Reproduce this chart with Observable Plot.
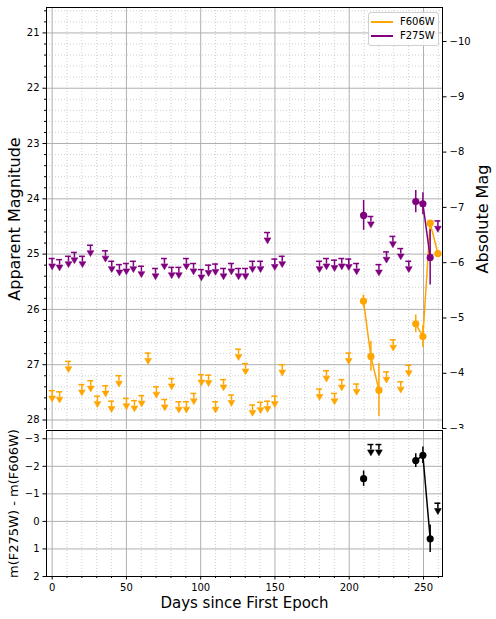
<!DOCTYPE html>
<html>
<head>
<meta charset="utf-8">
<script src="https://cdn.jsdelivr.net/npm/d3@7"></script>
<script src="https://cdn.jsdelivr.net/npm/@observablehq/plot@0.6"></script>
<style>
  body { margin: 0; background: white; font-family: "DejaVu Sans", sans-serif; }
  #wrap { position: relative; width: 496px; height: 619px; overflow: hidden; }
  #top, #bot { position: absolute; left: 0; }
  #top { top: 0; }
  #bot { top: 429px; }
  #legend { position: absolute; left: 368px; top: 12px; width: 69px; height: 32px;
    border: 1px solid #d0d0d0; border-radius: 3px; background: rgba(255,255,255,0.85);
    font-family: "DejaVu Sans", sans-serif; font-size: 10px; color: #000; }
  .sw { position: absolute; left: 2px; width: 22px; height: 1.5px; }
  .lt { position: absolute; left: 31px; line-height: 12px; }
</style>
</head>
<body>
<div id="wrap">
  <div id="top"></div>
  <div id="bot"></div>
  <div id="legend">
    <div class="sw" style="top:8px;background:orange"></div><div class="lt" style="top:3px">F606W</div>
    <div class="sw" style="top:22px;background:purple"></div><div class="lt" style="top:17px">F275W</div>
  </div>
</div>
<script>
// ---------- data ----------
const DM = 31.155; // distance modulus (apparent - absolute)

const f275LimDay = [0, 5, 11, 15, 20.4, 25.8, 35.9, 40.1, 45.3, 50, 54.7, 60.1, 69.6, 75.6, 80.5, 85.3, 90.4, 95.2, 100.5, 105.3,
  110, 115.4, 120.7, 125.5, 130.2, 134.9, 140.3, 145, 149.9, 154.9, 180, 184.7, 190.1, 195, 199.7, 205, 214.6, 220, 225.1, 229.4,
  234.7, 240.1, 259.7];
const f275LimMag = [25.08, 25.10, 25.04, 24.97, 25.04, 24.84, 24.94, 25.13, 25.19, 25.17, 25.13, 25.22, 25.26, 25.08, 25.24, 25.24, 25.08, 25.17, 25.28, 25.20,
  25.18, 25.26, 25.17, 25.26, 25.26, 25.13, 25.13, 24.61, 25.09, 25.04, 25.13, 25.08, 25.11, 25.08, 25.09, 25.17, 24.32, 25.19, 24.96, 24.68,
  24.90, 25.13, 24.40];

const f275DetDay = [209.7, 244.8, 249.6, 254.5];
const f275DetMag = [24.30, 24.05, 24.09, 25.06];
const f275DetErr = [0.27, 0.20, 0.20, 0.50];
const f275DetSeg = [1, 2, 2, 2];

const f606LimDay = [0, 5, 11, 20, 26, 30.5, 36, 40, 45, 50, 55.4, 60.3, 64.6, 70.2, 75.8, 80.5, 85.3, 90.4, 95.4, 100.5,
  105.3, 110, 115.4, 120.7, 125.5, 130.2, 134.9, 140.3, 145, 149.9, 154.9, 180, 184.7, 190.1, 195, 199.7, 205, 225.1, 229.6, 234.7,
  240.1];
const f606LimMag = [27.47, 27.49, 26.94, 27.36, 27.29, 27.57, 27.38, 27.66, 27.20, 27.61, 27.65, 27.56, 26.79, 27.40, 27.63, 27.25, 27.67, 27.67, 27.52, 27.18,
  27.19, 27.67, 27.27, 27.55, 26.72, 26.98, 27.73, 27.68, 27.66, 27.57, 27.00, 27.44, 27.11, 27.52, 27.27, 26.79, 27.35, 27.13, 26.55, 27.31,
  27.01];

const f606DetDay = [209.6, 214.6, 220, 244.8, 249.6, 254.5, 259.7];
const f606DetMag = [25.85, 26.85, 27.46, 26.26, 26.49, 24.44, 24.99];
const f606DetErr = [0.11, 0.27, 0.48, 0.16, 0.20, 0.05, 0.03];
const f606DetSeg = [1, 1, 1, 2, 2, 2, 2];

const colDetDay = [209.7, 244.8, 249.6, 254.5];
const colDetVal = [-1.55, -2.21, -2.40, 0.63];
const colDetErr = [0.28, 0.25, 0.30, 0.50];
const colDetSeg = [1, 2, 2, 2];

const colLimDay = [214.6, 220, 259.7];
const colLimVal = [-2.79, -2.79, -0.66];

// tick values
const xTicks = [0, 50, 100, 150, 200, 250];
const xMinor = [10, 20, 30, 40, 60, 70, 80, 90, 110, 120, 130, 140, 160, 170, 180, 190, 210, 220, 230, 240, 260];
const yTopTicks = [21, 22, 23, 24, 25, 26, 27, 28];
const absTicks = [-10, -9, -8, -7, -6, -5, -4, -3];
const yBotTicks = [-3, -2, -1, 0, 1, 2];

// ---------- tables ----------
const lim = (days, vals) => days.map((d, i) => ({day: d, v: vals[i]}));
const det = (days, vals, errs, segs) => days.map((d, i) => ({day: d, v: vals[i], e: errs[i], seg: segs[i]}));

const f275Lim = lim(f275LimDay, f275LimMag);
const f606Lim = lim(f606LimDay, f606LimMag);
const f275Det = det(f275DetDay, f275DetMag, f275DetErr, f275DetSeg);
const f606Det = det(f606DetDay, f606DetMag, f606DetErr, f606DetSeg);
const colDet = det(colDetDay, colDetVal, colDetErr, colDetSeg);
const colLim = lim(colLimDay, colLimVal);

const yMinorTop = d3.range(206, 282, 2).map(v => v / 10).filter(v => v % 1 !== 0 && v > 20.54 && v < 28.19);

const ORANGE = "orange", PURPLE = "purple";
const MAJ = "#b0b0b0";
const intFmt = d3.format("d");

function limitMarks(data, color, e) {
  return [
    Plot.ruleX(data, {x: "day", y1: "v", y2: d => d.v + e, stroke: color, strokeWidth: 1.5}),
    Plot.ruleY(data, {y: "v", x1: d => d.day - 2, x2: d => d.day + 2, stroke: color, strokeWidth: 1.5}),
    Plot.dot(data, {x: "day", y: d => d.v + e, symbol: "triangle", rotate: 180, r: 2.5, fill: color, stroke: color, strokeWidth: 0.6, dy: 1.8})
  ];
}
function detMarks(data, color) {
  return [
    Plot.line(data, {x: "day", y: "v", z: "seg", stroke: color, strokeWidth: 1.5}),
    Plot.ruleX(data, {x: "day", y1: d => d.v - d.e, y2: d => d.v + d.e, stroke: color, strokeWidth: 1.5}),
    Plot.dot(data, {x: "day", y: "v", r: 3.6, fill: color, stroke: "none"})
  ];
}

const style = {fontFamily: "DejaVu Sans", fontSize: "10px", color: "black", background: "white", overflow: "visible"};
const xDomain = [-3.8, 262.8];

const topPlot = Plot.plot({
  width: 496, height: 431,
  marginTop: 7, marginBottom: 1, marginLeft: 46, marginRight: 54,
  style,
  x: {domain: xDomain, axis: null},
  y: {domain: [20.54, 28.19], reverse: true},
  marks: [
    Plot.gridX({ticks: xMinor, stroke: MAJ, strokeOpacity: 0.75, strokeWidth: 0.8, strokeDasharray: "1,2"}),
    Plot.gridY({ticks: yMinorTop, stroke: MAJ, strokeOpacity: 0.75, strokeWidth: 0.8, strokeDasharray: "1,2"}),
    Plot.gridX({ticks: xTicks, stroke: MAJ, strokeOpacity: 1, strokeWidth: 1}),
    Plot.gridY({ticks: yTopTicks, stroke: MAJ, strokeOpacity: 1, strokeWidth: 1}),
    Plot.axisY({anchor: "left", ticks: yTopTicks, tickFormat: intFmt, tickSize: 3.5, tickPadding: 3.5, label: null, fontSize: 10}),
    Plot.axisY({anchor: "left", ticks: yMinorTop, tickSize: 2, tickFormat: () => "", label: null}),
    Plot.axisY({anchor: "right", ticks: absTicks.map(a => a + DM), tickFormat: d => intFmt(Math.round(d - DM)),
      tickSize: 3.5, tickPadding: 3.5, label: null, fontSize: 10}),
    ...limitMarks(f606Lim, ORANGE, 0.1),
    ...limitMarks(f275Lim, PURPLE, 0.1),
    ...detMarks(f606Det, ORANGE),
    ...detMarks(f275Det, PURPLE),
    Plot.frame({stroke: "black", strokeWidth: 1}),
    Plot.text(["Apparent Magnitude"], {frameAnchor: "left", dx: -32, rotate: -90, textAnchor: "middle", fontSize: 16}),
    Plot.text(["Absolute Mag"], {frameAnchor: "right", dx: 40, rotate: -90, textAnchor: "middle", fontSize: 16})
  ]
});
document.getElementById("top").append(topPlot);

const botPlot = Plot.plot({
  width: 496, height: 190,
  marginTop: 1, marginBottom: 43, marginLeft: 46, marginRight: 54,
  style,
  x: {domain: xDomain},
  y: {domain: [-3.3, 2], reverse: true},
  marks: [
    Plot.gridX({ticks: xMinor, stroke: MAJ, strokeOpacity: 0.75, strokeWidth: 0.8, strokeDasharray: "1,2"}),
    Plot.gridX({ticks: xTicks, stroke: MAJ, strokeOpacity: 1, strokeWidth: 1}),
    Plot.gridY({ticks: yBotTicks, stroke: MAJ, strokeOpacity: 1, strokeWidth: 1}),
    Plot.axisY({anchor: "left", ticks: yBotTicks, tickFormat: intFmt, tickSize: 3.5, tickPadding: 3.5, label: null, fontSize: 10}),
    Plot.axisX({anchor: "bottom", ticks: xTicks, tickFormat: intFmt, tickSize: 3.5, tickPadding: 3.5, label: null, fontSize: 10}),
    Plot.axisX({anchor: "bottom", ticks: xMinor, tickSize: 2, tickFormat: () => "", label: null}),
    ...limitMarks(colLim, "black", 0.2),
    ...detMarks(colDet, "black"),
    Plot.frame({stroke: "black", strokeWidth: 1}),
    Plot.text(["m(F275W) - m(F606W)"], {frameAnchor: "left", dx: -33, rotate: -90, textAnchor: "middle", fontSize: 13}),
    Plot.text(["Days since First Epoch"], {frameAnchor: "bottom", dy: 31, textAnchor: "middle", fontSize: 15})
  ]
});
document.getElementById("bot").append(botPlot);
</script>
</body>
</html>
